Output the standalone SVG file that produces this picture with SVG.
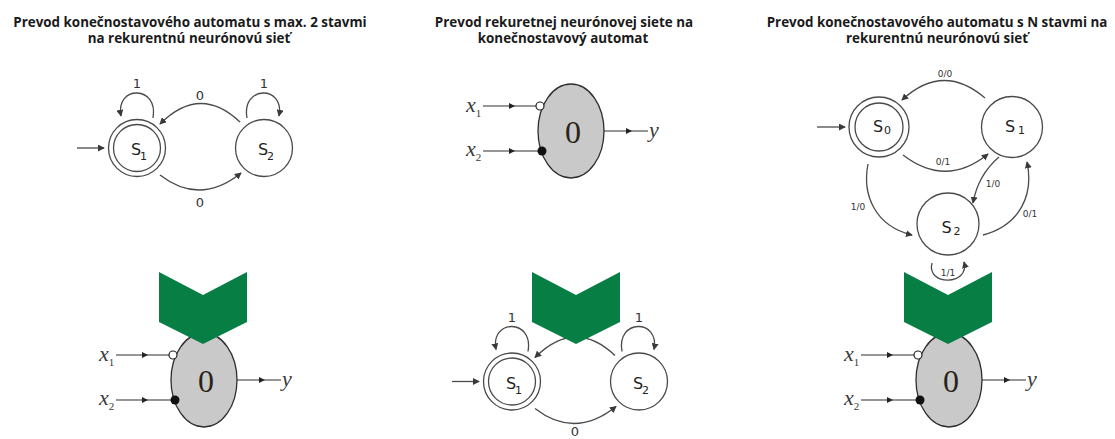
<svg xmlns="http://www.w3.org/2000/svg" width="1115" height="439" viewBox="0 0 1115 439">
  <style>
    .title { font-family: "Open Sans", "Liberation Sans", sans-serif; font-weight: 700; font-size: 13.4px; fill: #1a1a1a; text-anchor: middle; }
    .state { fill: #fff; stroke: #4a4a4a; stroke-width: 1.3; }
    .edge { fill: none; stroke: #4a4a4a; stroke-width: 1.3; }
    .lbl { font-family: "DejaVu Sans", "Liberation Sans", sans-serif; font-size: 13px; fill: #333; text-anchor: middle; }
    .slbl { font-family: "DejaVu Sans", "Liberation Sans", sans-serif; font-size: 16px; fill: #222; text-anchor: middle; }
    .small { font-family: "DejaVu Sans", "Liberation Sans", sans-serif; font-size: 9px; fill: #333; text-anchor: middle; }
    .cell { fill: #c9c9c9; stroke: #2e2e2e; stroke-width: 1.3; }
    .wire { fill: none; stroke: #2e2e2e; stroke-width: 1.2; }
    .var { font-family: "Liberation Serif", serif; font-style: italic; font-size: 22px; fill: #3a3a3a; }
    .sub { font-size: 11px; font-style: normal; }
    .big { font-family: "Liberation Serif", serif; font-size: 32px; fill: #2a2418; text-anchor: middle; }
    .chev { fill: #077f44; }
  </style>
  <defs>
    <marker id="arr" viewBox="0 0 8 8" refX="7" refY="4" markerWidth="7" markerHeight="7" markerUnits="userSpaceOnUse" orient="auto">
      <path d="M0,0 L8,4 L0,8 z" fill="#3a3a3a"/>
    </marker>
    <marker id="mid" viewBox="0 0 8 8" refX="4" refY="4" markerWidth="7" markerHeight="6" markerUnits="userSpaceOnUse" orient="auto">
      <path d="M0,0 L8,4 L0,8 z" fill="#222"/>
    </marker>

    <!-- two-state automaton S1 / S2 -->
    <g id="fsm2">
      <g id="fsm2-edges">
        <line class="edge" x1="77" y1="148" x2="104" y2="148" marker-end="url(#arr)"/>
        <path class="edge" d="M153,118 C159,85 115,85 121,116" marker-end="url(#arr)"/>
        <path class="edge" d="M247,118 C241,85 285,85 279,116" marker-end="url(#arr)"/>
        <path class="edge" d="M240,122 Q200,84 160,124" marker-end="url(#arr)"/>
        <path class="edge" d="M160,175 Q200,206 241,173" marker-end="url(#arr)"/>
      </g>
      <g id="fsm2-s1">
        <circle class="state" cx="137" cy="148" r="28.5"/>
        <circle class="state" cx="137" cy="148" r="23.5"/>
        <text class="slbl" x="139" y="155">S<tspan class="sub" dy="5" dx="-1">1</tspan></text>
      </g>
      <g id="fsm2-s2">
        <circle class="state" cx="264" cy="148" r="28.5"/>
        <text class="slbl" x="266" y="155">S<tspan class="sub" dy="5" dx="-1">2</tspan></text>
      </g>
      <text class="lbl" x="137" y="88">1</text>
      <text class="lbl" x="264" y="88">1</text>
    </g>

    <!-- threshold neuron with inhibitory and excitatory inputs -->
    <g id="neuron">
      <path class="wire" d="M483,106 L512,106 L536,106" marker-mid="url(#mid)"/>
      <path class="wire" d="M483,151 L512,151 L538,151" marker-mid="url(#mid)"/>
      <ellipse class="cell" cx="571" cy="131" rx="33" ry="47"/>
      <path class="wire" d="M604,131 L629,131 L648,131" marker-mid="url(#mid)"/>
      <circle cx="540" cy="106" r="4" fill="#fff" stroke="#222" stroke-width="1.2"/>
      <circle cx="542" cy="151" r="4.5" fill="#111"/>
      <text class="big" x="573" y="143">0</text>
      <text class="var" x="466" y="112">x<tspan class="sub" dy="5">1</tspan></text>
      <text class="var" x="466" y="156">x<tspan class="sub" dy="5">2</tspan></text>
      <text class="var" x="649" y="137">y</text>
    </g>
  </defs>

  <!-- column headings -->
  <g id="titles">
    <text class="title" x="190" y="27">Prevod konečnostavového automatu s max. 2 stavmi</text>
    <text class="title" x="189" y="43">na rekurentnú neurónovú sieť</text>
    <text class="title" x="564" y="27">Prevod rekuretnej neurónovej siete na</text>
    <text class="title" x="563" y="43">konečnostavový automat</text>
    <text class="title" x="937" y="27">Prevod konečnostavového automatu s N stavmi na</text>
    <text class="title" x="937" y="43">rekurentnú neurónovú sieť</text>
  </g>

  <!-- column 1: automaton -> neuron -->
  <g id="col1-automaton">
    <use href="#fsm2"/>
    <text class="lbl" x="200" y="100">0</text>
    <text class="lbl" x="200" y="207">0</text>
  </g>
  <g id="col1-neuron" transform="translate(-367,249)">
    <use href="#neuron"/>
  </g>

  <!-- column 2: neuron -> automaton -->
  <g id="col2-neuron">
    <use href="#neuron"/>
  </g>
  <g id="col2-automaton" transform="translate(375,233.5)">
    <use href="#fsm2"/>
    <text class="lbl" x="200" y="202">0</text>
  </g>

  <!-- column 3: N-state automaton -> neuron -->
  <g id="col3-connectors">
    <line class="edge" x1="817" y1="127" x2="845" y2="127" marker-end="url(#arr)"/>
    <path class="edge" d="M985,98 Q943,62 902,100" marker-end="url(#arr)"/>
    <path class="edge" d="M903,155 Q946,188 988,154" marker-end="url(#arr)"/>
    <path class="edge" d="M999,157 Q978,175 973,203" marker-end="url(#arr)"/>
    <path class="edge" d="M868,164 C862,195 875,226 912,235" marker-end="url(#arr)"/>
    <path class="edge" d="M983,235 C1020,225 1034,195 1027,162" marker-end="url(#arr)"/>
    <path class="edge" d="M932,263 C926,286 970,286 964,262" marker-end="url(#arr)"/>
    <text class="small" x="945" y="77">0/0</text>
    <text class="small" x="943" y="165">0/1</text>
    <text class="small" x="993" y="187">1/0</text>
    <text class="small" x="858" y="210">1/0</text>
    <text class="small" x="1030" y="217">0/1</text>
    <text class="small" x="948" y="276">1/1</text>
  </g>
  <g id="col3-s0">
    <circle class="state" cx="879" cy="127" r="30"/>
    <circle class="state" cx="879" cy="127" r="24"/>
    <text class="slbl" x="882" y="132">S<tspan class="sub" dx="1" dy="2">0</tspan></text>
  </g>
  <g id="col3-s1">
    <circle class="state" cx="1012" cy="127" r="30.5"/>
    <text class="slbl" x="1015" y="132">S<tspan class="sub" dx="3" dy="2">1</tspan></text>
  </g>
  <g id="col3-s2">
    <circle class="state" cx="948" cy="224" r="31"/>
    <text class="slbl" x="951" y="233">S<tspan class="sub" dx="2" dy="2">2</tspan></text>
  </g>
  <g id="col3-neuron" transform="translate(378,249)">
    <use href="#neuron"/>
  </g>

  <!-- conversion chevrons -->
  <g id="chevrons">
    <polygon class="chev" points="159,272 203,295 247,272 247,322 203,344 159,322"/>
    <polygon class="chev" points="532,272 576,295 620,272 620,322 576,344 532,322"/>
    <polygon class="chev" points="904,272 948,295 992,272 992,322 948,344 904,322"/>
  </g>
</svg>
